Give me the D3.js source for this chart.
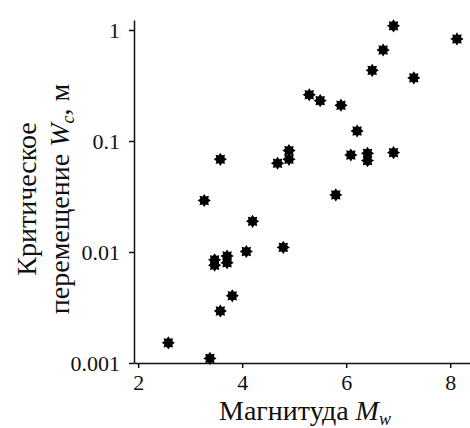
<!DOCTYPE html>
<html>
<head>
<meta charset="utf-8">
<script src="https://cdn.jsdelivr.net/npm/d3@7"></script>
<style>
  body { margin: 0; background: #fff; }
  svg { display: block; }
  .axis path, .axis line { stroke: #111; stroke-width: 1.5; }
  .title { font-family: "Liberation Serif", "Times New Roman", serif; font-size: 28px; fill: #111; }
</style>
</head>
<body>
<svg id="chart" width="470" height="428"></svg>
<script>
// magnitude Mw and critical displacement Wc (m)
var magnitude = [2.58, 3.38, 3.27, 3.47, 3.47, 3.71, 3.71, 3.58, 3.58, 3.81,
                 4.08, 4.2, 4.68, 4.79, 4.9, 4.9, 5.29, 5.5, 5.8, 5.9,
                 6.09, 6.21, 6.41, 6.41, 6.5, 6.71, 6.91, 6.91, 7.3, 8.13];
var displacement = [0.00152, 0.0011, 0.0291, 0.0085, 0.0076, 0.0092, 0.0080, 0.0684, 0.00294, 0.00403,
                    0.0101, 0.0189, 0.063, 0.011, 0.082, 0.0684, 0.261, 0.231, 0.0327, 0.21,
                    0.0748, 0.123, 0.0774, 0.0666, 0.433, 0.66, 1.09, 0.0786, 0.37, 0.83];
var xTicks = [2, 4, 6, 8];
var yTicks = [0.001, 0.01, 0.1, 1];
var yTickLabels = ["0.001", "0.01", "0.1", "1"];

var svg = d3.select("#chart");

var x = d3.scaleLinear().domain([1.92, 8.4]).range([134, 471]),
    y = d3.scaleLog().domain([0.001, 1.23]).range([363, 20]);

var xAxis = d3.axisBottom(x).tickValues(xTicks).tickFormat(d3.format("d"))
    .tickSizeInner(5).tickSizeOuter(0).tickPadding(6);
var yAxis = d3.axisLeft(y).tickValues(yTicks)
    .tickFormat(function(d, i) { return yTickLabels[i]; })
    .tickSizeInner(5).tickSizeOuter(0).tickPadding(9);

var gx = svg.append("g").attr("class", "axis")
    .attr("transform", "translate(0," + 363 + ")")
    .call(xAxis);
var gy = svg.append("g").attr("class", "axis")
    .attr("transform", "translate(" + 134 + ",0)")
    .call(yAxis);

[gx, gy].forEach(function(g) {
  g.attr("font-family", null).attr("font-size", null);
  g.selectAll("text")
    .style("font-family", "'Liberation Serif', 'Times New Roman', serif")
    .style("font-size", "22px")
    .style("fill", "#111");
});

// eight-pointed star marker
function star(ro, ri) {
  var pts = [];
  for (var i = 0; i < 16; i++) {
    var a = i * Math.PI / 8 - Math.PI / 2, r = i % 2 ? ri : ro;
    pts.push([r * Math.cos(a), r * Math.sin(a)]);
  }
  return "M" + pts.join("L") + "Z";
}

svg.append("g").selectAll("path")
  .data(d3.range(magnitude.length))
  .enter().append("path")
    .attr("d", star(6.6, 4.4))
    .attr("fill", "#000")
    .attr("transform", function(i) {
      return "translate(" + x(magnitude[i]) + "," + y(displacement[i]) + ")";
    });

// x title
var xt = svg.append("text").attr("class", "title")
    .attr("x", 305).attr("y", 420).attr("text-anchor", "middle");
xt.append("tspan").text("Магнитуда ");
xt.append("tspan").attr("font-style", "italic").text("M");
xt.append("tspan").attr("font-style", "italic").attr("font-size", "18px").attr("dy", 5).text("w");

// y title, two lines
var yt = svg.append("g").attr("transform", "translate(0,199) rotate(-90)");
yt.append("text").attr("class", "title")
    .attr("x", 0).attr("y", 36).attr("text-anchor", "middle")
    .text("Критическое");
var l2 = yt.append("text").attr("class", "title")
    .attr("x", 0).attr("y", 69).attr("text-anchor", "middle");
l2.append("tspan").text("перемещение ");
l2.append("tspan").attr("font-style", "italic").text("W");
l2.append("tspan").attr("font-style", "italic").attr("font-size", "18px").attr("dy", 5).text("c");
l2.append("tspan").attr("dy", -5).text(", м");
</script>
</body>
</html>
